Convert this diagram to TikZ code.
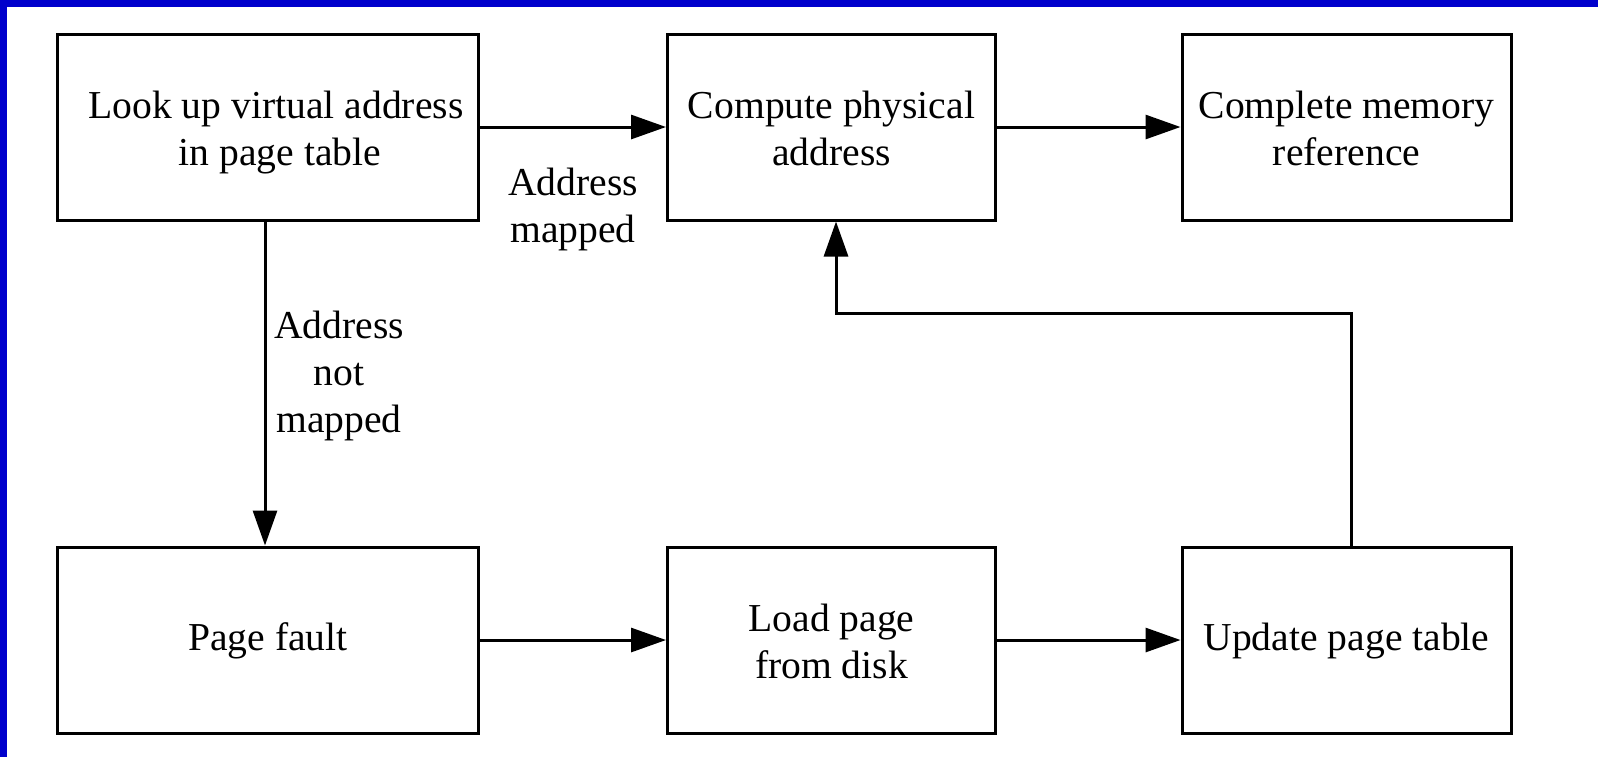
\documentclass[tikz,border=0pt]{standalone}
\usepackage{fontspec}
\setmainfont{Liberation Serif}
\usetikzlibrary{arrows.meta}
\definecolor{frameblue}{HTML}{0000CC}
\newcommand{\boxfont}{\fontsize{19.8pt}{23.5pt}\selectfont}
% invisible struts fixing the first line's height and the last line's depth
\newcommand{\linetopstrut}{\rule{0pt}{19pt}}
\newcommand{\linebotstrut}{\rule[-4.5pt]{0pt}{4.5pt}}
\newcommand{\onelinestrut}{\rule[-4.5pt]{0pt}{19.6pt}}
\tikzset{
  stepbox/.style={draw, line width=1.5pt, rectangle, minimum height=93pt,
    align=center, inner sep=0pt, font=\boxfont},
  lbl/.style={align=center, inner sep=0pt, font=\boxfont, anchor=base},
  flow/.style={line width=1.5pt, -{Triangle[length=17.5pt,width=12pt]}},
}
\begin{document}
\begin{tikzpicture}[x=0.5pt,y=-0.5pt]
  \useasboundingbox (0,0) rectangle (1598,757);
  \fill[white] (0,0) rectangle (1598,757);
  % frame edges at top and left
  \fill[frameblue] (0,0) rectangle (1598,7);
  \fill[frameblue] (0,0) rectangle (7,757);

  % upper row
  \node[stepbox, minimum width=210.5pt] (b1) at (268,127)
    {\linetopstrut\hspace*{8pt}Look up virtual address\\\hspace*{12pt}in page table\linebotstrut};
  \node[stepbox, minimum width=164pt] (b2) at (831.5,127)
    {\linetopstrut Compute physical\\address\linebotstrut};
  \node[stepbox, minimum width=164.5pt] (b3) at (1346.5,127)
    {\linetopstrut Complete memory\\reference\linebotstrut};
  % lower row
  \node[stepbox, minimum width=210.5pt] (b4) at (268,640)
    {\onelinestrut Page fault};
  \node[stepbox, minimum width=164pt] (b5) at (831.5,640)
    {\linetopstrut Load page\\from disk\linebotstrut};
  \node[stepbox, minimum width=164.5pt] (b6) at (1346.5,640)
    {\onelinestrut Update page table};

  % connectors
  \draw[flow] (b1.east) -- (b2.west);
  \draw[flow] (b2.east) -- (b3.west);
  \draw[flow] ([xshift=-1.5pt]b1.south) -- ([xshift=-1.5pt]b4.north);
  \draw[flow] (b4.east) -- (b5.west);
  \draw[flow] (b5.east) -- (b6.west);
  \coordinate (turn) at (836,313);
  \draw[flow] ([xshift=2.5pt]b6.north) |- (turn) -- (turn |- b2.south);

  % connector labels (anchored on the baseline of their last line)
  \node[lbl] (mapped) at (573,242) {Address\\mapped};
  \node[lbl] (notmapped) at (339,432) {Address\\not\\mapped};
\end{tikzpicture}
\end{document}
